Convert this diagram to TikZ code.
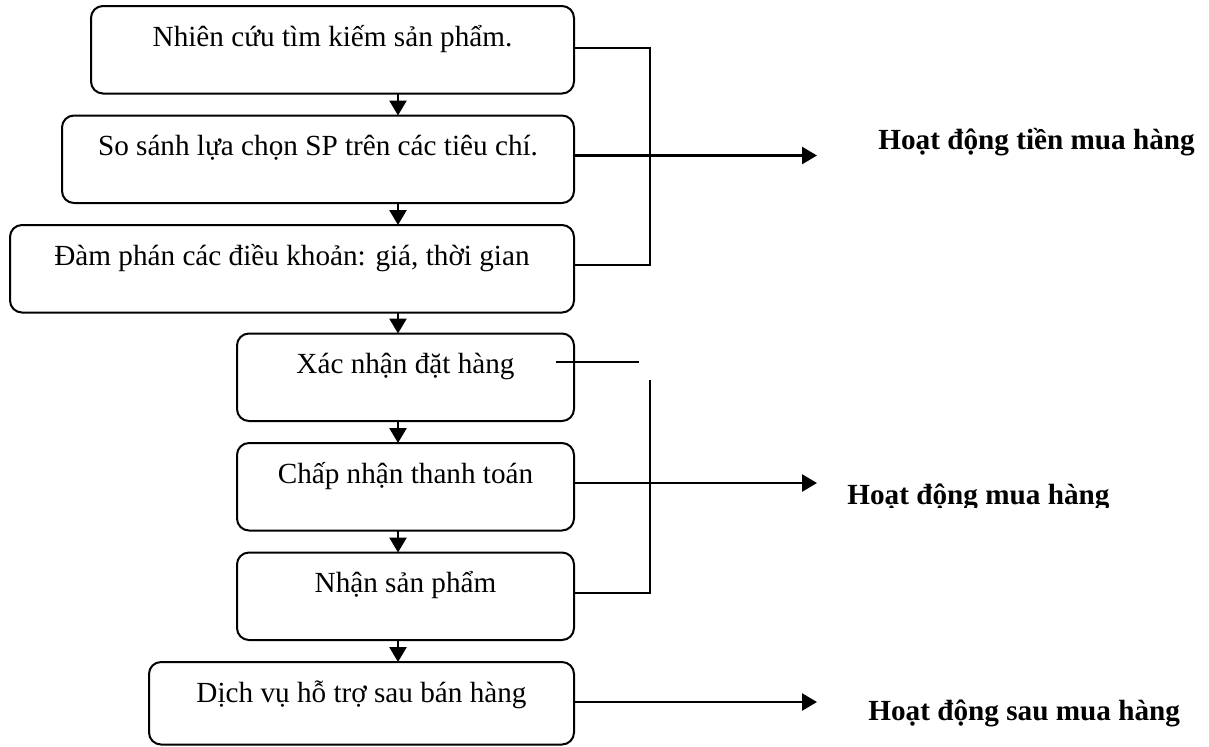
\documentclass[tikz,border=0pt]{standalone}
\usepackage{fontspec}
\setmainfont{Liberation Serif}
\usepackage{tikz}
\usetikzlibrary{arrows.meta,positioning}

\begin{document}
\begin{tikzpicture}[x=0.5pt,y=-0.5pt,font=\fontsize{14.6}{17}\selectfont,
  blk/.style={draw,line width=1pt,rounded corners=6pt,align=center,inner ysep=0pt,outer sep=0pt,
    text height=20pt,text depth=23.75pt,minimum width=#1},
  arr/.style={-{Triangle[length=7.5pt,width=8.5pt]},line width=1.3pt},
  lnk/.style={line width=1pt},
  lbl/.style={font=\fontsize{14.6}{17}\selectfont\bfseries,anchor=base west,inner sep=0pt}]
\useasboundingbox (0,0) rectangle (1209,746);
\node[blk=241.5pt,anchor=north east] (b1) at (574,6) {Nhiên cứu tìm kiếm sản phẩm.};
\node[blk=256pt,below=11pt of b1.south east,anchor=north east] (b2) {So sánh lựa chọn SP trên các tiêu chí.};
\node[blk=282pt,below=11pt of b2.south east,anchor=north east] (b3) {Đàm phán các điều khoản: giá, thời gian};
\node[blk=168.5pt,below=10.5pt of b3.south east,anchor=north east] (b4) {Xác nhận đặt hàng};
\node[blk=168.5pt,below=11pt of b4.south east,anchor=north east] (b5) {Chấp nhận thanh toán};
\node[blk=168.5pt,below=11pt of b5.south east,anchor=north east] (b6) {Nhận sản phẩm};
\node[blk=212.5pt,text depth=21.25pt,below=11pt of b6.south east,anchor=north east] (b7) {Dịch vụ hỗ trợ sau bán hàng};
\node[lbl] (pre) at (878,149) {Hoạt động tiền mua hàng};
\begin{scope}
\clip (840,470) rectangle (1120,507);
\node[lbl] (buy) at (847,504) {Hoạt động mua hàng};
\end{scope}
\node[lbl] (post) at (868,720) {Hoạt động sau mua hàng};
\coordinate (spine) at (398,0);
\coordinate (brx) at (650,0);
\coordinate (tipx) at (817,0);
\coordinate (o4a) at (556,362);
\coordinate (o4b) at (639,362);
\coordinate (v2) at (650,380);
% flow down the boxes
\foreach \a/\b in {b1/b2,b2/b3,b3/b4,b4/b5,b5/b6,b6/b7}
  \draw[arr] (\a.south -| spine) -- (\b.north -| spine);
% brackets and arrows to the labels
\draw[lnk] ([yshift=-1pt]b1.base east) -| (b3.base east -| brx) -- (b3.base east);
\draw[arr] (b2.base east) -- (b2.base east -| tipx);
\draw[lnk] (o4a) -- (o4b);
\draw[lnk] (v2) -- (b6.base east -| brx) -- (b6.base east);
\draw[arr] (b5.base east) -- (b5.base east -| tipx);
\draw[arr] (b7.base east) -- (b7.base east -| tipx);
\end{tikzpicture}
\end{document}
